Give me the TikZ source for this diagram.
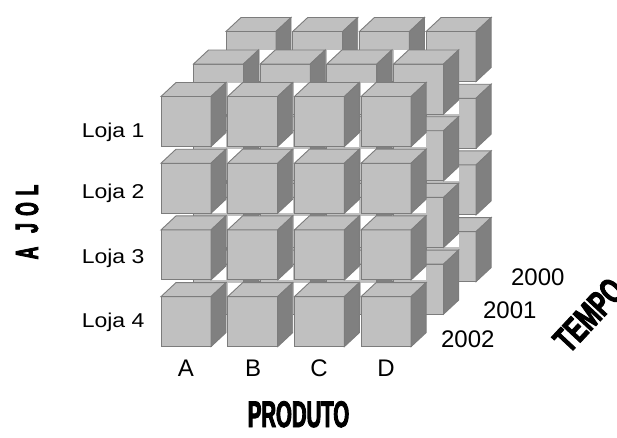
\documentclass[tikz,border=0pt]{standalone}
\usepackage{fontspec}
\setmainfont{Liberation Sans}
\newfontfamily\lojafont[FakeStretch=1.15]{Liberation Sans}
\newfontfamily\eixofont[FakeStretch=0.55,FakeBold=2.5]{Liberation Sans Bold}
\newfontfamily\tempofont[FakeStretch=0.66,FakeBold=2.5]{Liberation Sans Bold}
\usepackage{tikz}
\definecolor{claro}{HTML}{C0C0C0}
\definecolor{escuro}{HTML}{808080}
\definecolor{aresta}{HTML}{7C7C7C}
\tikzset{
  frente/.style={fill=claro, draw=aresta, line width=0.9pt},
  topo/.style={fill=claro, draw=aresta, line width=0.9pt},
  ladod/.style={fill=escuro, draw=aresta, line width=0.9pt},
  cubo/.pic={
    \fill[white] (0,-14) rectangle (65,50);
    \path[frente] (0,0) rectangle (50,50);
    \path[topo] (0,0)--(15,-14)--(65,-14)--(50,0)--cycle;
    \path[ladod] (50,0)--(65,-14)--(65,36)--(50,50)--cycle;
  },
  loja/.style={anchor=base east, font=\lojafont\fontsize{20}{20}\selectfont},
  ano/.style={anchor=base east, font=\fontsize{24}{24}\selectfont},
  prod/.style={anchor=base, font=\fontsize{24}{24}\selectfont},
  eixo/.style={font=\eixofont\fontsize{37}{37}\selectfont},
  letra/.style={rotate=90, font=\eixofont\fontsize{32}{32}\selectfont}
}
\begin{document}
\begin{tikzpicture}[x=1pt, y=-1pt]
  \useasboundingbox (0,0) rectangle (617,437);
  % camadas de tras para frente: 2000, 2001, 2002
  \foreach \k in {2,1,0}
    \foreach \i in {0,...,3}
      \foreach \j in {0,...,3}
        \pic at ({161+66.7*\i+32.5*\k},{96.5+66.7*\j-32.5*\k}) {cubo};

  \node[loja] (loja1) at (148,137) {Loja 1};
  \node[loja] (loja2) at (148,198) {Loja 2};
  \node[loja] (loja3) at (148,263) {Loja 3};
  \node[loja] (loja4) at (148,327) {Loja 4};

  \node[prod] (prodA) at (186,376) {A};
  \node[prod] (prodB) at (253,376) {B};
  \node[prod] (prodC) at (319,376) {C};
  \node[prod] (prodD) at (386,376) {D};

  \node[ano] (ano2000) at (568,285) {2000};
  \node[ano] (ano2001) at (540,318) {2001};
  \node[ano] (ano2002) at (498,347) {2002};

  \node[eixo, anchor=base] (produto) at (298.5,427) {PRODUTO};
  \node[font=\tempofont\fontsize{36}{36}\selectfont, rotate=47, inner sep=0pt] (tempo) at (589,315) {TEMPO};

  \node[letra] (lojaL) at (27,190) {L};
  \node[letra] (lojaO) at (27,209) {O};
  \node[letra] (lojaJ) at (27,228) {J};
  \node[letra] (lojaA) at (27,253) {A};
\end{tikzpicture}
\end{document}
